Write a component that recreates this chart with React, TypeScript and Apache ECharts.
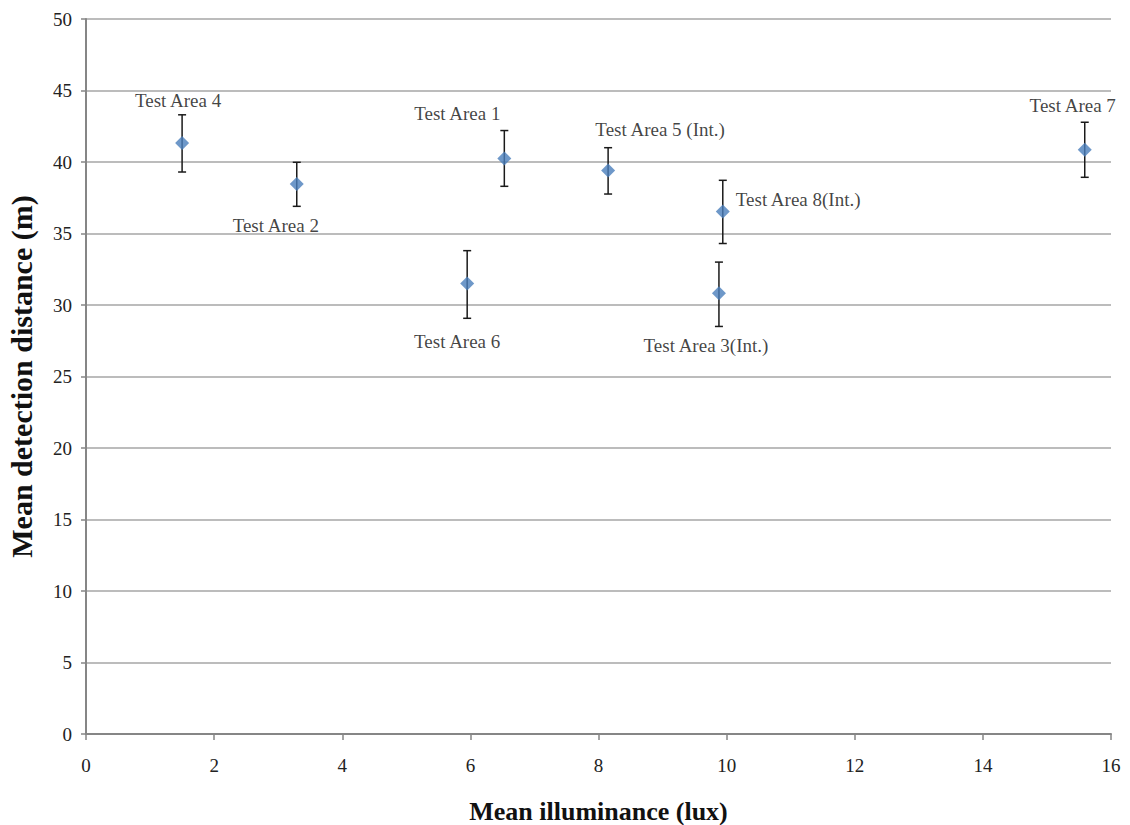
import React, { useEffect, useRef } from "react";
import * as echarts from "echarts";

const names = ["Test Area 4", "Test Area 2", "Test Area 6", "Test Area 1", "Test Area 5 (Int.)", "Test Area 8(Int.)", "Test Area 3(Int.)", "Test Area 7"];
const illuminance = [1.5, 3.29, 5.95, 6.53, 8.15, 9.94, 9.88, 15.59];
const distance = [41.33, 38.46, 31.5, 40.25, 39.4, 36.53, 30.82, 40.85];
const errorHigh = [43.3, 39.98, 33.8, 42.2, 41.0, 38.72, 33.0, 42.78];
const errorLow = [39.3, 36.9, 29.07, 38.3, 37.76, 34.3, 28.5, 38.93];
const xTicks = [0, 2, 4, 6, 8, 10, 12, 14, 16];
const yTicks = [0, 5, 10, 15, 20, 25, 30, 35, 40, 45, 50];

// label placement (styling), [dx, dy, align]
const labelOffsets: [number, number, string][] = [
  [-4, -42, "center"],
  [-21, 41, "center"],
  [-10, 58, "center"],
  [-47, -45, "center"],
  [52, -41, "center"],
  [13, -12, "left"],
  [-13, 52, "center"],
  [-12, -44, "center"],
];

export default function App() {
  const ref = useRef<HTMLDivElement>(null);
  useEffect(() => {
    const chart = echarts.init(ref.current!, null, { renderer: "svg" });
    const font = "'Liberation Serif', 'Times New Roman', serif";
    chart.setOption({
      animation: false,
      backgroundColor: "#ffffff",
      textStyle: { fontFamily: font },
      grid: { left: 86, right: 19, top: 19, bottom: 91, containLabel: false, outerBoundsMode: "none" },
      xAxis: {
        type: "value",
        min: xTicks[0],
        max: xTicks[xTicks.length - 1],
        interval: 2,
        name: "Mean illuminance (lux)",
        nameLocation: "middle",
        nameGap: 64,
        nameTextStyle: { fontFamily: font, fontSize: 26, fontWeight: "bold", color: "#111" },
        axisLine: { show: true, lineStyle: { color: "#868686", width: 2 } },
        axisTick: { show: true, length: 6, lineStyle: { color: "#868686", width: 1.5 } },
        axisLabel: { fontFamily: font, fontSize: 19, color: "#222", margin: 22 },
        splitLine: { show: false },
      },
      yAxis: {
        type: "value",
        min: yTicks[0],
        max: yTicks[yTicks.length - 1],
        interval: 5,
        name: "Mean detection distance (m)",
        nameLocation: "middle",
        nameGap: 50,
        nameTextStyle: { fontFamily: font, fontSize: 30, fontWeight: "bold", color: "#111" },
        axisLine: { show: true, lineStyle: { color: "#868686", width: 2 } },
        axisTick: { show: true, length: 5, lineStyle: { color: "#868686", width: 1.5 } },
        axisLabel: { fontFamily: font, fontSize: 19, color: "#222", margin: 14 },
        splitLine: { show: true, lineStyle: { color: "#a6a6a6", width: 1.5 } },
      },
      series: [
        {
          type: "custom",
          data: illuminance.map((x, i) => [x, errorLow[i], errorHigh[i]]),
          renderItem: (params: any, api: any) => {
            const lo = api.coord([api.value(0), api.value(1)]);
            const hi = api.coord([api.value(0), api.value(2)]);
            const w = 4;
            const style = { stroke: "#1a1a1a", lineWidth: 1.5 };
            return {
              type: "group",
              children: [
                { type: "line", shape: { x1: hi[0], y1: hi[1], x2: lo[0], y2: lo[1] }, style },
                { type: "line", shape: { x1: hi[0] - w, y1: hi[1], x2: hi[0] + w, y2: hi[1] }, style },
                { type: "line", shape: { x1: lo[0] - w, y1: lo[1], x2: lo[0] + w, y2: lo[1] }, style },
              ],
            };
          },
          z: 2,
        },
        {
          type: "scatter",
          symbol: "diamond",
          symbolSize: 14,
          itemStyle: { color: "#4a7ebb" },
          z: 3,
          data: illuminance.map((x, i) => ({
            value: [x, distance[i]],
            name: names[i],
            label: {
              show: true,
              formatter: names[i],
              position: "inside",
              offset: [labelOffsets[i][0], labelOffsets[i][1]],
              align: labelOffsets[i][2],
              verticalAlign: "middle",
              fontFamily: font,
              fontSize: 19,
              color: "#111",
            },
          })),
        },
      ],
    });
    return () => chart.dispose();
  }, []);
  return (
    <div
      ref={ref}
      style={{ position: "fixed", left: 0, top: 0, width: 1130, height: 825, background: "#fff" }}
    />
  );
}
